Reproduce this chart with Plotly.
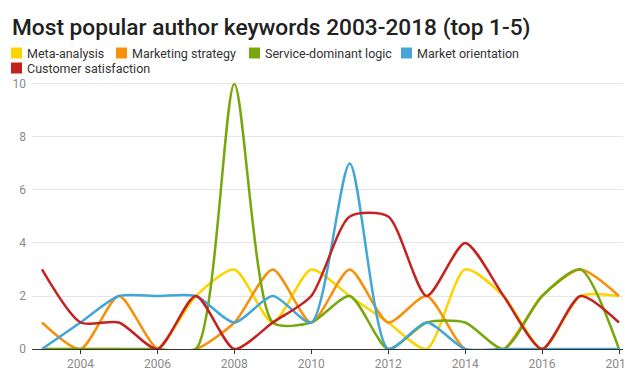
import plotly.graph_objects as go

years = list(range(2003, 2019))
meta_analysis = [0, 0, 0, 0, 2, 3, 1, 3, 2, 1, 0, 3, 2, 0, 2, 2]
marketing_strategy = [1, 0, 2, 0, 0, 1, 3, 1, 3, 1, 2, 0, 0, 2, 3, 2]
service_dominant = [0, 0, 0, 0, 0, 10, 1, 1, 2, 0, 1, 1, 0, 2, 3, 0]
market_orientation = [0, 1, 2, 2, 2, 1, 2, 1, 7, 0, 1, 0, 0, 0, 0, 0]
customer_satisfaction = [3, 1, 1, 0, 2, 0, 1, 2, 5, 5, 2, 4, 2, 0, 2, 1]

series_names = ["Meta-analysis", "Marketing strategy", "Service-dominant logic",
                "Market orientation", "Customer satisfaction"]
series_values = [meta_analysis, marketing_strategy, service_dominant,
                 market_orientation, customer_satisfaction]
colors = ["#FCD400", "#F7900A", "#76A80B", "#43A6D6", "#C4221F"]
x_tick_vals = [2004, 2006, 2008, 2010, 2012, 2014, 2016, 2018]
y_tick_vals = [0, 2, 4, 6, 8, 10]

W, H = 625, 370
ML, MR, MT, MB = 32, 2, 80, 21
PW = W - ML - MR
PH = H - MT - MB

fig = go.Figure()
for name, vals, c in zip(series_names, series_values, colors):
    fig.add_trace(go.Scatter(x=years, y=vals, name=name, mode="lines",
                             line=dict(color=c, width=2.5, shape="spline", smoothing=0.7),
                             showlegend=False))

def px_x(px):
    return (px - ML) / PW

def px_y(py):
    return (H - MB - py) / PH

# legend built as squares + text
legend_pos = [(11, 53), (116, 53), (249, 53), (401, 53), (11, 68)]
for (sx, sy), name, c in zip(legend_pos, series_names, colors):
    fig.add_shape(type="rect", xref="paper", yref="paper",
                  x0=px_x(sx), x1=px_x(sx + 11), y0=px_y(sy + 5.5), y1=px_y(sy - 5.5),
                  fillcolor=c, line=dict(width=0))
    fig.add_annotation(xref="paper", yref="paper", x=px_x(sx + 14), y=px_y(sy),
                       xanchor="left", yanchor="middle", showarrow=False,
                       text=name, font=dict(family="Roboto", size=12.5, color="#333333"))

fig.update_layout(
    width=W, height=H,
    margin=dict(l=ML, r=MR, t=MT, b=MB, pad=0),
    paper_bgcolor="white", plot_bgcolor="white",
    title=dict(text="Most popular author keywords 2003-2018 (top 1-5)",
               xref="container", yref="container", x=12 / W, y=1 - 27 / H,
               xanchor="left", yanchor="middle",
               font=dict(family="Roboto", size=22.7, color="#212121", weight=500)),
    xaxis=dict(range=[2002.74, 2018.104], tickvals=x_tick_vals,
               ticktext=[str(v) for v in x_tick_vals],
               showgrid=False, zeroline=False, showline=True, linecolor="#333333",
               linewidth=1, ticks="outside", ticklen=4, tickcolor="#333333",
               tickfont=dict(family="Roboto", size=12, color="#8a8a8a"),
               ticklabeloverflow="allow",
               automargin=False, fixedrange=True),
    yaxis=dict(range=[0, 10.15], tickvals=y_tick_vals, showgrid=True,
               gridcolor="#e6e6e6", gridwidth=1, zeroline=False, showline=False,
               tickfont=dict(family="Roboto", size=12, color="#8a8a8a"),
               automargin=False, fixedrange=True, ticklabelstandoff=5),
)

fig.write_html("out.html")
